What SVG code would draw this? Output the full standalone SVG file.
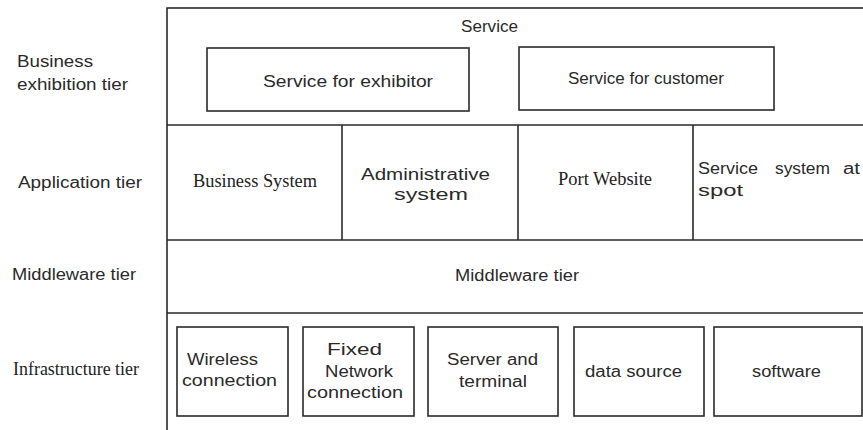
<svg xmlns="http://www.w3.org/2000/svg" width="863" height="430" viewBox="0 0 863 430">
<style>
.ln{fill:none;stroke:#2a2a2a;stroke-width:1.6}
.bx{fill:#fff;stroke:#2a2a2a;stroke-width:1.6}
.s{font-family:"Liberation Sans",Arial,sans-serif;font-size:16px;fill:#2a2a2a}
.t{font-family:"Liberation Serif","Times New Roman",serif;font-size:18px;fill:#222}
</style>
<rect x="0" y="0" width="863" height="430" fill="#fff"/>
<g id="connectors">
<rect class="ln" x="167" y="8" width="710" height="440"/>
<line class="ln" x1="167" y1="125" x2="863" y2="125"/>
<line class="ln" x1="167" y1="240" x2="863" y2="240"/>
<line class="ln" x1="167" y1="313" x2="863" y2="313"/>
<line class="ln" x1="342" y1="125" x2="342" y2="240"/>
<line class="ln" x1="518" y1="125" x2="518" y2="240"/>
<line class="ln" x1="693" y1="125" x2="693" y2="240"/>
</g>
<g id="label-business">
<text class="s" x="17" y="67" textLength="76" lengthAdjust="spacingAndGlyphs">Business</text>
<text class="s" x="17" y="90" textLength="111" lengthAdjust="spacingAndGlyphs">exhibition tier</text>
</g>
<g id="label-application"><text class="s" x="18" y="188" textLength="124" lengthAdjust="spacingAndGlyphs">Application tier</text></g>
<g id="label-middleware"><text class="s" x="12" y="280" textLength="124" lengthAdjust="spacingAndGlyphs">Middleware tier</text></g>
<g id="label-infrastructure"><text class="t" x="13" y="375" textLength="126" lengthAdjust="spacingAndGlyphs">Infrastructure tier</text></g>
<g id="service"><text class="s" x="461" y="32" textLength="57" lengthAdjust="spacingAndGlyphs">Service</text></g>
<g id="service-exhibitor">
<rect class="bx" x="207" y="48" width="262" height="63"/>
<text class="s" x="263" y="87" textLength="170" lengthAdjust="spacingAndGlyphs">Service for exhibitor</text>
</g>
<g id="service-customer">
<rect class="bx" x="519" y="47" width="255" height="63"/>
<text class="s" x="568" y="84" textLength="156" lengthAdjust="spacingAndGlyphs">Service for customer</text>
</g>
<g id="business-system"><text class="t" x="193" y="187" textLength="124" lengthAdjust="spacingAndGlyphs">Business System</text></g>
<g id="administrative-system">
<text class="s" x="361" y="180" textLength="129" lengthAdjust="spacingAndGlyphs">Administrative</text>
<text class="s" x="394" y="200" textLength="74" lengthAdjust="spacingAndGlyphs">system</text>
</g>
<g id="port-website"><text class="t" x="558" y="185" textLength="94" lengthAdjust="spacingAndGlyphs">Port Website</text></g>
<g id="service-system">
<text class="s" x="698" y="174" textLength="60" lengthAdjust="spacingAndGlyphs">Service</text>
<text class="s" x="775" y="174" textLength="55" lengthAdjust="spacingAndGlyphs">system</text>
<text class="s" x="843" y="174" textLength="17" lengthAdjust="spacingAndGlyphs">at</text>
<text class="s" x="698" y="196" textLength="45" lengthAdjust="spacingAndGlyphs">spot</text>
</g>
<g id="middleware"><text class="s" x="455" y="281" textLength="124" lengthAdjust="spacingAndGlyphs">Middleware tier</text></g>
<g id="wireless">
<rect class="bx" x="177" y="327" width="111" height="89"/>
<text class="s" x="187" y="365" textLength="71" lengthAdjust="spacingAndGlyphs">Wireless</text>
<text class="s" x="182" y="386" textLength="95" lengthAdjust="spacingAndGlyphs">connection</text>
</g>
<g id="fixed-network">
<rect class="bx" x="303" y="327" width="111" height="89"/>
<text class="s" x="327" y="355" textLength="55" lengthAdjust="spacingAndGlyphs">Fixed</text>
<text class="s" x="325" y="377" textLength="68" lengthAdjust="spacingAndGlyphs">Network</text>
<text class="s" x="307" y="398" textLength="96" lengthAdjust="spacingAndGlyphs">connection</text>
</g>
<g id="server-terminal">
<rect class="bx" x="428" y="327" width="130" height="89"/>
<text class="s" x="447" y="365" textLength="91" lengthAdjust="spacingAndGlyphs">Server and</text>
<text class="s" x="459" y="387" textLength="68" lengthAdjust="spacingAndGlyphs">terminal</text>
</g>
<g id="data-source">
<rect class="bx" x="574" y="327" width="130" height="89"/>
<text class="s" x="585" y="377" textLength="97" lengthAdjust="spacingAndGlyphs">data source</text>
</g>
<g id="software">
<rect class="bx" x="714" y="327" width="148" height="89"/>
<text class="s" x="752" y="377" textLength="69" lengthAdjust="spacingAndGlyphs">software</text>
</g>
</svg>
